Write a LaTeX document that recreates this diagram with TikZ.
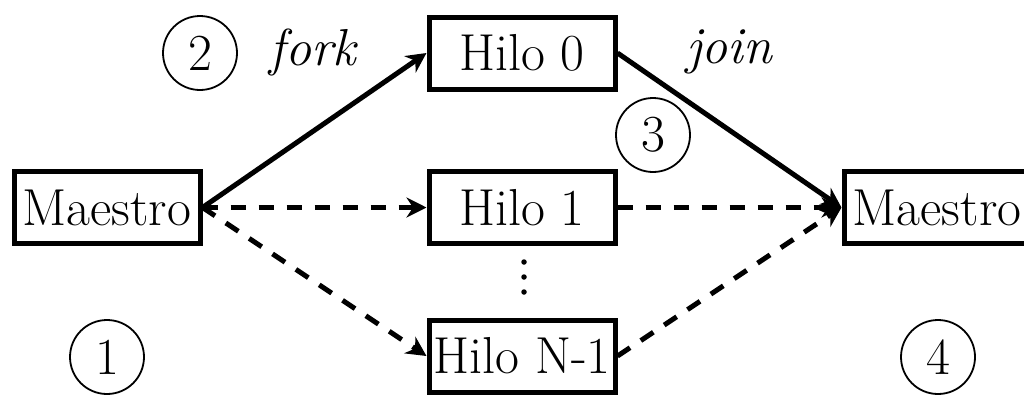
\documentclass[tikz,border=0pt]{standalone}
\usepackage{fontspec}
\setmainfont{Latin Modern Roman}
\usetikzlibrary{arrows.meta}
\begin{document}
\begin{tikzpicture}[x=1pt,y=-1pt,
  every node/.style={font=\fontsize{52}{60}\selectfont},
  box/.style={draw, line width=5pt, minimum width=186pt, minimum height=72pt, inner sep=1pt},
  num/.style={draw, circle, line width=1.8pt, minimum size=74pt, inner sep=0pt},
  conn/.style={line width=5pt, -{Stealth[length=20pt,width=20pt]}},
  dconn/.style={conn, dash pattern=on 15pt off 13pt},
  lbl/.style={font=\fontsize{52}{60}\selectfont\itshape},
  dot/.style={circle, fill, inner sep=0pt, minimum size=5.5pt}]
\useasboundingbox (0,0) rectangle (1024,394);
\node[box] (m1) at (107,207.5) {Maestro};
\node[box] (h0) at (522,53) {Hilo 0};
\node[box] (h1) at (522,207.5) {Hilo 1};
\node[box] (hn) at (522,356) {Hilo N-1};
\node[box] (m2) at (937,207.5) {Maestro};
\node[num] (c1) at (107,357) {1};
\node[num] (c2) at (200,53) {2};
\node[num] (c3) at (653,135) {3};
\node[num] (c4) at (938,357) {4};
\node[lbl] (fork) at (313,52) {fork};
\node[lbl] (join) at (729,52) {join};
\node[dot] (d1) at (524,262) {};
\node[dot] (d2) at (524,277) {};
\node[dot] (d3) at (524,292) {};
\draw[conn] (m1.east) -- (h0.west);
\draw[dconn] (m1.east) -- (h1.west);
\draw[dconn] (m1.east) -- (hn.west);
\draw[conn] (h0.east) -- (m2.west);
\draw[dconn] (h1.east) -- (m2.west);
\draw[dconn] (hn.east) -- (m2.west);
\end{tikzpicture}
\end{document}
